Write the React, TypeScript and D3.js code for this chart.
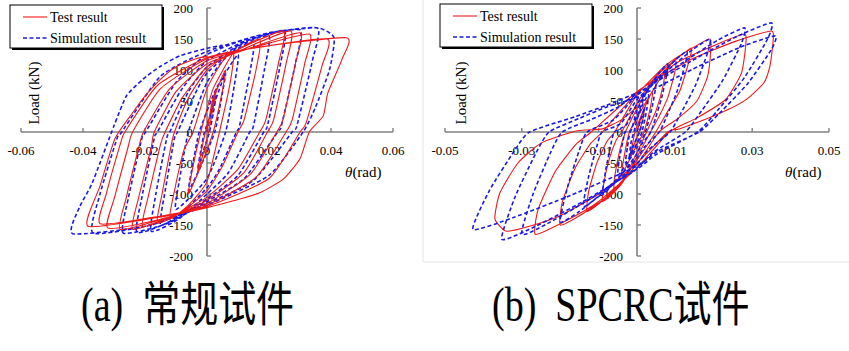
import React from 'react';
import * as d3 from 'd3';

// load axis (shared by both panels)
const yTicks = [-200, -150, -100, -50, 0, 50, 100, 150, 200];
// drift axis ticks
const xTicksA = [-0.06, -0.04, -0.02, 0, 0.02, 0.04, 0.06];
const xTicksB = [-0.05, -0.03, -0.01, 0.01, 0.03, 0.05];

const legendLabels = ['Test result', 'Simulation result'];
const captions = ['(a)  常规试件', '(b)  SPCRC试件'];

// (a) conventional specimen, test hysteresis [theta rad, load kN]
const testA = [
  [0, 0], [0.0015, 45], [0.003, 70], [0.002, 40], [0.0005, 0], [-0.0015, -40], [-0.003, -65], [-0.002, -35], [-0.0005, 0],
  [0.003, 65], [0.006, 100], [0.0045, 55], [0.002, 0], [-0.002, -55], [-0.006, -100], [-0.0045, -55], [-0.002, 0],
  [0.002, 70], [0.0085, 127], [0.0075, 80], [0.004, 0], [0, -80], [-0.006, -118], [-0.012, -140], [-0.0105, -95], [-0.0075, -30], [-0.0045, 0], [0, 70],
  [0.006, 120], [0.017, 150], [0.0158, 100], [0.012, 20], [0.01, 0], [0.005, -55], [0, -95], [-0.008, -128], [-0.016, -147], [-0.0145, -100], [-0.0115, -20], [-0.0105, 0], [-0.006, 55], [0, 100],
  [0.008, 128], [0.0246, 163], [0.023, 110], [0.019, 20], [0.017, 0], [0.01, -60], [0, -105], [-0.01, -133], [-0.0207, -152], [-0.019, -105], [-0.015, -20], [-0.0135, 0], [-0.008, 55], [0, 105],
  [0.01, 130], [0.027, 163], [0.0255, 110], [0.0215, 20], [0.0195, 0], [0.012, -65], [0, -110], [-0.012, -137], [-0.024, -157], [-0.022, -105], [-0.018, -25], [-0.017, 0], [-0.01, 65], [0, 110],
  [0.012, 132], [0.03, 160], [0.0285, 110], [0.0245, 20], [0.0225, 0], [0.014, -68], [0, -115], [-0.014, -140], [-0.028, -157], [-0.026, -105], [-0.022, -25], [-0.0205, 0], [-0.012, 70], [0, 115],
  [0.014, 135], [0.033, 158], [0.0315, 110], [0.0275, 20], [0.0255, 0], [0.016, -72], [0, -118], [-0.016, -142], [-0.032, -155], [-0.0298, -105], [-0.0255, -25], [-0.024, 0], [-0.015, 70], [0, 118],
  [0.016, 136], [0.0388, 150], [0.037, 105], [0.032, 15], [0.03, 0], [0.02, -75], [0, -120], [-0.018, -138], [-0.0345, -148], [-0.0325, -100], [-0.028, -20], [-0.0265, 0], [-0.016, 75], [0, 120],
  [0.018, 138], [0.045, 152], [0.0436, 118], [0.039, 63], [0.0375, 26], [0.033, 0], [0.03, -43], [0.0246, -76], [0.017, -98], [0.0085, -111], [0, -122], [-0.015, -137], [-0.0384, -152],
  [-0.0345, -87], [-0.0297, -11], [-0.024, 31], [-0.02, 58], [-0.015, 85], [-0.0097, 106], [-0.003, 119], [0, 122],
];

// (a) simulation
const simA = [
  [0, 0], [0.0015, 35], [0.003, 60], [0.002, 30], [0.0008, 0], [-0.0015, -35], [-0.003, -60], [-0.002, -30], [-0.0008, 0],
  [0.003, 55], [0.006, 95], [0.0045, 50], [0.0025, 0], [-0.002, -55], [-0.006, -95], [-0.0045, -50], [-0.0025, 0],
  [0.003, 70], [0.01, 125], [0.0088, 75], [0.006, 0], [0, -75], [-0.01, -125], [-0.0088, -75], [-0.006, 0], [0, 80],
  [0.007, 125], [0.015, 145], [0.0138, 95], [0.0105, 10], [0.0095, 0], [0.004, -60], [0, -90], [-0.008, -130], [-0.015, -150], [-0.0135, -95], [-0.0105, -10], [-0.0095, 0], [-0.004, 60], [0, 95],
  [0.01, 138], [0.02, 155], [0.0185, 100], [0.015, 10], [0.0138, 0], [0.007, -65], [0, -100], [-0.009, -140], [-0.018, -160], [-0.0165, -100], [-0.013, -10], [-0.012, 0], [-0.006, 65], [0, 105],
  [0.012, 145], [0.025, 163], [0.0235, 105], [0.0195, 10], [0.0183, 0], [0.01, -70], [0, -108], [-0.012, -145], [-0.0226, -162], [-0.021, -105], [-0.017, -10], [-0.016, 0], [-0.008, 70], [0, 115],
  [0.014, 150], [0.03, 165], [0.0285, 110], [0.024, 10], [0.0228, 0], [0.012, -75], [0, -112], [-0.013, -148], [-0.027, -163], [-0.0253, -105], [-0.021, -10], [-0.0198, 0], [-0.01, 80], [0, 125],
  [0.016, 155], [0.0355, 168], [0.034, 115], [0.029, 10], [0.0275, 0], [0.015, -78], [0, -115], [-0.018, -150], [-0.0368, -163], [-0.0345, -100], [-0.029, -10], [-0.0275, 0], [-0.015, 90], [0, 130],
  [0.02, 160], [0.0355, 168], [0.041, 152], [0.0395, 100], [0.035, 40], [0.031, 0], [0.02, -70], [0, -118], [-0.02, -152], [-0.0433, -164],
  [-0.041, -120], [-0.037, -82], [-0.03, 10], [-0.026, 58], [-0.0207, 85], [-0.015, 106], [-0.0087, 123], [0, 135], [0.005, 140],
];

// (b) SPCRC specimen, test
const testB = [
  [0, 0], [0.001, 22], [0.002, 40], [0.0015, 20], [0.0005, 0], [-0.001, -25], [-0.002, -45], [-0.0012, -20], [-0.0005, 0], [0.001, 25],
  [0.004, 65], [0.0035, 40], [0.0018, 0], [0, -20], [-0.002, -45], [-0.004, -70], [-0.0035, -45], [-0.002, 0], [0, 22], [0.002, 45],
  [0.007, 95], [0.0068, 75], [0.005, 35], [0.0025, 0], [0, -33], [-0.0025, -65], [-0.0045, -85], [-0.006, -95], [-0.0058, -72], [-0.0045, -30], [-0.003, 0], [0, 38], [0.003, 70], [0.0055, 88],
  [0.01, 115], [0.0098, 95], [0.008, 55], [0.0055, 22], [0.0035, 0], [0, -40], [-0.0036, -80], [-0.0068, -102], [-0.009, -112], [-0.0087, -85], [-0.0072, -43], [-0.0054, -13], [-0.004, 0], [0, 46], [0.004, 83], [0.0075, 104],
  [0.014, 135], [0.0137, 118], [0.0112, 67], [0.0077, 30], [0.0049, 0], [0, -45], [-0.0052, -90], [-0.0098, -115], [-0.013, -128], [-0.0126, -96], [-0.0104, -49], [-0.0078, -15], [-0.0058, 0], [0, 60], [0.0076, 108], [0.0143, 135],
  [0.019, 150], [0.0192, 132], [0.0184, 90], [0.0156, 50], [0.0105, 21], [0.0057, 0], [0, -52], [-0.008, -105], [-0.015, -135], [-0.02, -150], [-0.0194, -112], [-0.016, -57], [-0.012, -18], [-0.009, 0], [0, 63], [0.011, 114], [0.021, 142],
  [0.028, 158], [0.0283, 139], [0.0272, 95], [0.023, 52], [0.0154, 22], [0.0084, 0], [0, -58], [-0.0106, -115], [-0.02, -148], [-0.0265, -165], [-0.0257, -124], [-0.0212, -63], [-0.0159, -20], [-0.0119, 0], [0, 65], [0.014, 117], [0.026, 147],
  [0.035, 163], [0.0354, 143], [0.0346, 106], [0.033, 79], [0.0286, 53], [0.024, 37], [0.018, 21], [0.011, 5], [0.008, 0], [0, -50], [-0.01, -100], [-0.02, -135], [-0.028, -152], [-0.034, -160], [-0.037, -140],
  [-0.0357, -98], [-0.031, -50], [-0.025, -18], [-0.0156, 2], [-0.009, 5], [-0.004, 20], [0, 40],
];

// (b) simulation
const simB = [
  [0, 0], [0.001, 20], [0.002, 40], [0.0015, 20], [0.0007, 0], [-0.001, -22], [-0.002, -40], [-0.0015, -15], [-0.0008, 0], [0, 20], [0.0015, 45],
  [0.003, 60], [0.0025, 35], [0.0013, 0], [0, -18], [-0.0015, -35], [-0.003, -50], [-0.0025, -25], [-0.0018, 0], [0, 25], [0.0025, 65],
  [0.005, 85], [0.0048, 70], [0.004, 42], [0.0022, 0], [0, -25], [-0.002, -45], [-0.005, -70], [-0.0045, -40], [-0.0035, -10], [-0.0032, 0], [-0.0015, 3], [0, 35], [0.0032, 72], [0.006, 97],
  [0.008, 110], [0.0078, 94], [0.0064, 55], [0.0048, 22], [0.0036, 0], [0.0012, -20], [0, -35], [-0.0036, -65], [-0.0068, -88], [-0.009, -100], [-0.0081, -60], [-0.0068, -20], [-0.0059, 0], [-0.0027, 12], [0, 45], [0.0052, 85], [0.0098, 115],
  [0.013, 130], [0.0126, 110], [0.0104, 65], [0.0078, 26], [0.0058, 0], [0.002, -24], [0, -42], [-0.0056, -78], [-0.0105, -106], [-0.014, -120], [-0.0126, -72], [-0.0105, -24], [-0.0091, 0], [-0.0042, 14], [0, 52], [0.0076, 97], [0.0143, 132],
  [0.019, 150], [0.0184, 128], [0.0152, 75], [0.0114, 30], [0.0086, 0], [0.0029, -29], [0, -51], [-0.008, -94], [-0.015, -128], [-0.02, -145], [-0.018, -87], [-0.015, -29], [-0.013, 0], [-0.006, 20], [0, 59], [0.0112, 109], [0.021, 148],
  [0.028, 168], [0.0272, 143], [0.0224, 84], [0.0168, 34], [0.0126, 0], [0.0042, -33], [0, -58], [-0.012, -107], [-0.0225, -145], [-0.03, -165], [-0.027, -99], [-0.0225, -33], [-0.0195, 0], [-0.012, 20], [-0.005, 40], [0, 62], [0.014, 114], [0.0263, 155],
  [0.035, 176], [0.034, 150], [0.028, 88], [0.021, 35], [0.0158, 0], [0.0053, -35], [0, -60], [-0.014, -112], [-0.0264, -152], [-0.0352, -173], [-0.0317, -104], [-0.0264, -35], [-0.0229, 0], [-0.015, 22], [-0.008, 40], [0, 56], [0.0144, 101], [0.027, 137],
  [0.036, 155], [0.0349, 132], [0.0288, 78], [0.0216, 31], [0.0162, 0], [0.0054, -31], [0, -55], [-0.0172, -102], [-0.0322, -138], [-0.0427, -157],
  [-0.0384, -94], [-0.032, -31], [-0.028, 0], [-0.016, 25], [-0.008, 43], [0, 63],
];

const SERIF = "'Liberation Serif', 'Times New Roman', serif";
const RED = '#f01818';
const BLUE = '#1a1ae6';
const AXIS = '#808080';

const fmtX = (t) => (t === 0 ? '0' : t.toFixed(2));

function Panel({xDomain, xRange, xTicks, test, sim, simFirst, legend, loadX, thetaX}) {
  const x = d3.scaleLinear().domain(xDomain).range(xRange);
  const y = d3.scaleLinear().domain([-200, 200]).range([256, 8]);
  // tighter spline so the load reversals stay sharp
  const line = d3.line()
    .x(d => x(d[0]))
    .y(d => y(d[1]))
    .curve(d3.curveCardinal.tension(0.45));

  const ax = x(0);
  const ay = y(0);

  const testPath = <path d={line(test)} fill="none" stroke={RED} strokeWidth={1.1} strokeLinejoin="round"/>;
  const simPath = <path d={line(sim)} fill="none" stroke={BLUE} strokeWidth={1.6} strokeDasharray="4,2.5"/>;

  return (
    <g>
      {/* axes */}
      <line x1={ax} x2={ax} y1={y(200)} y2={y(-200)} stroke={AXIS} strokeWidth={1.6}/>
      <line x1={xRange[0]} x2={xRange[1]} y1={ay} y2={ay} stroke={AXIS} strokeWidth={1.6}/>
      {yTicks.map(t => (
        <g key={'y' + t}>
          <line x1={ax} x2={ax + 4} y1={y(t)} y2={y(t)} stroke={AXIS} strokeWidth={1.4}/>
          <text x={ax - 14} y={y(t)} dy="0.35em" textAnchor="end" fontFamily={SERIF} fontSize={13}>{t}</text>
        </g>
      ))}
      {xTicks.map(t => (
        <g key={'x' + t}>
          <line x1={x(t)} x2={x(t)} y1={ay} y2={ay - 4} stroke={AXIS} strokeWidth={1.4}/>
          <text x={x(t)} y={155} textAnchor="middle" fontFamily={SERIF} fontSize={13}>{fmtX(t)}</text>
        </g>
      ))}

      {/* curves */}
      {simFirst ? simPath : testPath}
      {simFirst ? testPath : simPath}

      {/* axis titles */}
      <text transform={`translate(${loadX},93) rotate(-90)`} textAnchor="middle" fontFamily={SERIF} fontSize={15}>Load (kN)</text>
      <text x={thetaX} y={177} fontFamily={SERIF} fontSize={15}>
        <tspan fontStyle="italic">θ</tspan>
        <tspan>(rad)</tspan>
      </text>

      {/* legend */}
      <rect x={legend.x + 2} y={legend.y + 2} width={152} height={43} fill="#000"/>
      <rect x={legend.x} y={legend.y} width={152} height={43} fill="#fff" stroke="#000" strokeWidth={1}/>
      <line x1={legend.x + 13} x2={legend.x + 37} y1={legend.y + 12} y2={legend.y + 12} stroke={RED} strokeWidth={1.1}/>
      <line x1={legend.x + 13} x2={legend.x + 37} y1={legend.y + 33} y2={legend.y + 33} stroke={BLUE} strokeWidth={1.6} strokeDasharray="4,2.5"/>
      <text x={legend.x + 40} y={legend.y + 17} fontFamily={SERIF} fontSize={14}>{legendLabels[0]}</text>
      <text x={legend.x + 40} y={legend.y + 38} fontFamily={SERIF} fontSize={14}>{legendLabels[1]}</text>
    </g>
  );
}

export default function App() {
  return (
    <svg width={849} height={351} style={{position: 'absolute', left: 0, top: 0, background: '#fff'}}>
      <rect x={0} y={0} width={849} height={351} fill="#fff"/>
      <line x1={423} x2={423} y1={0} y2={262} stroke="#e4e4e4" strokeWidth={1}/>
      <line x1={423} x2={849} y1={262} y2={262} stroke="#e4e4e4" strokeWidth={1}/>

      <Panel
        xDomain={[-0.06, 0.06]} xRange={[21, 393]} xTicks={xTicksA}
        test={testA} sim={simA} simFirst={true}
        legend={{x: 10, y: 5}} loadX={39} thetaX={345}
      />
      <Panel
        xDomain={[-0.05, 0.05]} xRange={[445, 829]} xTicks={xTicksB}
        test={testB} sim={simB} simFirst={false}
        legend={{x: 440, y: 4}} loadX={466} thetaX={785}
      />

      <g fontFamily="'Liberation Serif', 'Noto Sans CJK SC', serif" fontSize={38}>
        <text transform="translate(81,321) scale(1,1.25)" style={{whiteSpace: 'pre'}}>{captions[0]}</text>
        <text transform="translate(492,321) scale(1,1.25)" style={{whiteSpace: 'pre'}}>{captions[1]}</text>
      </g>
    </svg>
  );
}
